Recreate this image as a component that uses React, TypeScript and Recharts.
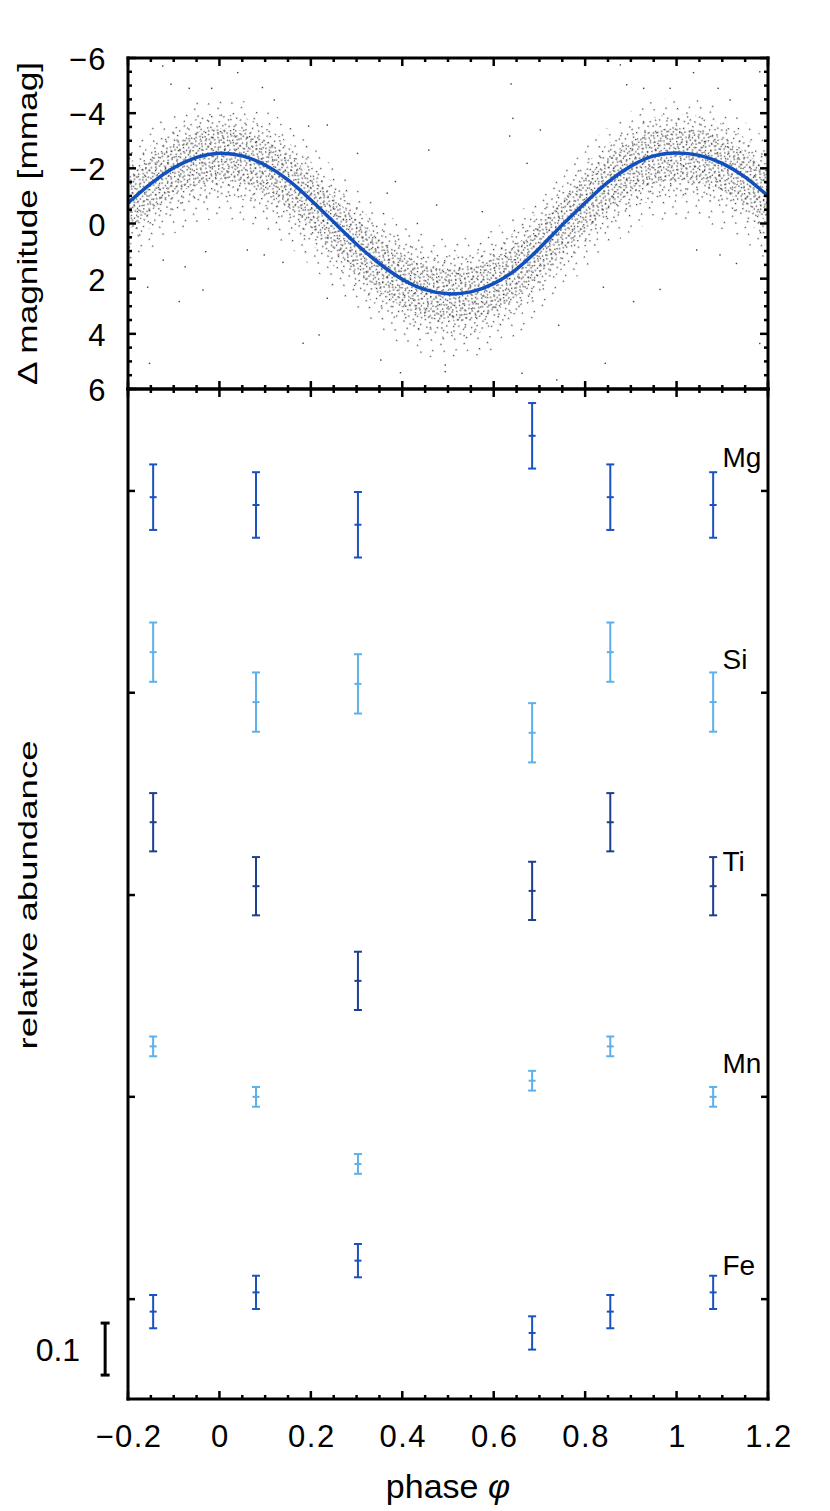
import React from 'react';
import {
  ComposedChart,
  XAxis,
  YAxis,
  Line,
  Area,
  Scatter,
  ErrorBar,
  ReferenceLine,
} from 'recharts';

// ---------------- DATA: top panel (phase-folded photometry) ----------------
const phaseGrid = [-0.2, -0.15, -0.1, -0.05, 0, 0.05, 0.1, 0.15, 0.2, 0.25, 0.3, 0.35, 0.4, 0.45, 0.5, 0.55, 0.6, 0.65, 0.7, 0.75, 0.8, 0.85, 0.9, 0.95, 1.0, 1.05, 1.1, 1.15, 1.2];
// fitted light curve (mmag)
const fitCurve = [-0.75, -1.45, -2.02, -2.4, -2.55, -2.45, -2.12, -1.58, -0.85, -0.05, 0.75, 1.45, 2.02, 2.4, 2.55, 2.48, 2.18, 1.65, 0.9, 0.05, -0.75, -1.5, -2.08, -2.45, -2.56, -2.47, -2.18, -1.68, -1.0];
// densest part of the photometric cloud (mmag)
const coreTop = [-1.65, -2.35, -2.92, -3.3, -3.45, -3.35, -3.02, -2.48, -1.75, -0.95, -0.15, 0.55, 1.12, 1.5, 1.65, 1.58, 1.28, 0.75, 0.0, -0.85, -1.65, -2.4, -2.98, -3.35, -3.46, -3.37, -3.08, -2.58, -1.9];
const coreBottom = [0.25, -0.45, -1.02, -1.4, -1.55, -1.45, -1.12, -0.58, 0.15, 0.95, 1.75, 2.45, 3.02, 3.4, 3.55, 3.48, 3.18, 2.65, 1.9, 1.05, 0.25, -0.5, -1.08, -1.45, -1.56, -1.47, -1.18, -0.68, 0.0];
// medium-density part of the cloud (mmag)
const midTop = [-2.15, -2.85, -3.4, -3.8, -3.95, -3.85, -3.5, -2.95, -2.25, -1.45, -0.65, 0.05, 0.6, 1.0, 1.15, 1.1, 0.8, 0.25, -0.5, -1.35, -2.15, -2.9, -3.45, -3.85, -3.95, -3.9, -3.6, -3.1, -2.4];
const midBottom = [0.85, 0.15, -0.45, -0.8, -0.95, -0.85, -0.5, 0.05, 0.75, 1.55, 2.35, 3.05, 3.6, 4.0, 4.15, 4.05, 3.75, 3.25, 2.5, 1.65, 0.85, 0.1, -0.5, -0.85, -0.95, -0.9, -0.6, -0.1, 0.6];
// sparse outer part of the cloud (mmag)
const haloTop = [-2.75, -3.45, -4.02, -4.4, -4.55, -4.45, -4.12, -3.58, -2.85, -2.05, -1.25, -0.55, 0.02, 0.4, 0.55, 0.48, 0.18, -0.35, -1.1, -1.95, -2.75, -3.5, -4.08, -4.45, -4.56, -4.47, -4.18, -3.68, -3.0];
const haloBottom = [1.65, 0.95, 0.38, 0.0, -0.15, -0.05, 0.28, 0.82, 1.55, 2.35, 3.15, 3.85, 4.42, 4.8, 4.95, 4.88, 4.58, 4.05, 3.3, 2.45, 1.65, 0.9, 0.32, -0.05, -0.16, -0.07, 0.22, 0.72, 1.4];
// isolated points outside the cloud
const outlierPhase = [-0.124, 0.04, -0.106, -0.066, -0.017, 0.094, 0.12, 0.458, 0.302, 0.236, 0.195, 0.367, 0.385, 0.433, 0.475, 0.236, 0.183, 0.218, 0.139, 0.061, 0.098, -0.03, -0.075, -0.123, -0.157, -0.088, -0.036, -0.153, 0.396, 0.353, 0.494, 0.638, 0.642, 0.635, 0.702, 0.673, 0.575, 0.877, 0.891, 0.928, 0.986, 1.037, 1.091, 1.117, 1.182, 0.84, 0.906, 0.964, 0.844, 0.742, 0.662, 0.494, 1.044, 1.095, 1.131, 1.182, 0.738];
const outlierMag = [-5.71, -5.47, -5.05, -4.9, -4.9, -4.93, -4.48, -2.66, -2.54, -3.57, -3.53, -1.1, -1.52, 0.0, -0.67, 2.71, 4.34, 4.04, 1.41, 0.96, 1.14, 1.02, 1.57, 1.33, 2.31, 2.83, 2.41, 5.07, 5.41, 4.95, 5.13, -5.06, -3.81, -3.17, -3.39, -2.18, -0.43, -5.75, -5.03, -4.9, -4.9, -5.47, -4.9, -4.48, -5.5, 2.31, 2.83, 2.39, 5.07, 3.69, 5.43, 5.37, 0.96, 1.14, 1.45, 4.35, 5.67];

const xMajorTicks = [-0.2, 0, 0.2, 0.4, 0.6, 0.8, 1, 1.2];
const xTickLabels = ['\u22120.2', '0', '0.2', '0.4', '0.6', '0.8', '1', '1.2'];
const magMajorTicks = [-6, -4, -2, 0, 2, 4, 6];
const magTickLabels = ['\u22126', '\u22124', '\u22122', '0', '2', '4', '6'];

// ---------------- DATA: bottom panel (abundances) ----------------
const elementNames = ['Mg', 'Si', 'Ti', 'Mn', 'Fe'];
const elementLevels = [1.554, 1.166, 0.777, 0.389, 0];
const spectrumPhases = [-0.145, 0.08, 0.303, 0.684, 0.855, 1.08];
const mgOffsets = [-0.012, -0.027, -0.065, 0.106, -0.012, -0.027];
const siOffsets = [0.078, -0.018, 0.017, -0.077, 0.078, -0.018];
const tiOffsets = [0.14, 0.017, -0.165, 0.008, 0.14, 0.017];
const mnOffsets = [0.097, 0.0, -0.129, 0.031, 0.097, 0.0];
const feOffsets = [-0.024, 0.013, 0.074, -0.065, -0.024, 0.013];
const elementErrors = [0.063, 0.057, 0.056, 0.019, 0.032];
const scaleBarLength = 0.1;
const scaleBarLabel = '0.1';

// ---------------- STYLES / LAYOUT ----------------
const FONT = '"Liberation Sans", Arial, Helvetica, sans-serif';
const W = 830;
const H = 1511;
const PLOT_LEFT = 128;
const PLOT_RIGHT = 768;
const TOP_PLOT_TOP = 58;
const SPLIT_Y = 389;
const BOTTOM_PLOT_BOTTOM = 1399;
const AXIS_T = 1; // thickness reserved by each axis
const elementColors = ['#1b52c2', '#5eb0ea', '#1d3f8e', '#5eb0ea', '#1b52c2'];
const CURVE_COLOR = '#1150bd';
const DOT_COLOR = '#3c3c3c';
const coreTexture = [[0.5, 1.5], [5.5, 0.2], [3, 5.5], [8, 7], [7.2, 3.6], [1.8, 8.6]];
const midTexture = [[2, 3], [8.5, 1], [6, 8.5], [11, 6]];
const haloTexture = [[4, 5], [12, 12], [14, 2]];

const phaseDomain: [number, number] = [-0.2, 1.2];
const magDomain: [number, number] = [-6, 6];
const abundanceDomain: [number, number] = [-0.192, 1.75];

function subdivide(majors: number[], parts: number): number[] {
  const out: number[] = [];
  for (let i = 0; i < majors.length - 1; i++) {
    const step = (majors[i + 1] - majors[i]) / parts;
    for (let k = 0; k < parts; k++) out.push(+(majors[i] + k * step).toFixed(6));
  }
  out.push(majors[majors.length - 1]);
  return out;
}

const xAllTicks = subdivide(xMajorTicks, 4);
const magAllTicks = subdivide(magMajorTicks, 4);

type Side = 'left' | 'right' | 'top' | 'bottom';

function makeTick(side: Side, majors: number[], labels: string[] | null, majorLen: number, minorLen: number) {
  const TickMark = (props: any) => {
    const x = Number(props.x);
    const y = Number(props.y);
    const v = Number(props.payload && props.payload.value);
    const idx = majors.findIndex((m) => Math.abs(m - v) < 1e-6);
    const len = idx >= 0 ? majorLen : minorLen;
    const dx = side === 'left' ? len : side === 'right' ? -len : 0;
    const dy = side === 'top' ? len : side === 'bottom' ? -len : 0;
    let label: React.ReactNode = null;
    if (labels && idx >= 0) {
      if (side === 'left') {
        label = (
          <text x={x - 21} y={y + 12} textAnchor="end" fontFamily={FONT} fontSize={31} fill="#000" letterSpacing={1.5}>
            {labels[idx]}
          </text>
        );
      } else if (side === 'bottom') {
        label = (
          <text x={x + 1} y={y + 48} textAnchor="middle" fontFamily={FONT} fontSize={31} fill="#000" letterSpacing={1.5}>
            {labels[idx]}
          </text>
        );
      }
    }
    return (
      <g>
        {len > 0 && <line x1={x} y1={y} x2={x + dx} y2={y + dy} stroke="#000" strokeWidth={2.5} />}
        {label}
      </g>
    );
  };
  return TickMark;
}

const axisLineStyle = { stroke: '#000', strokeWidth: 3, strokeLinecap: 'square' as const };

const curveRows = phaseGrid.map((p, i) => ({
  phase: p,
  fit: fitCurve[i],
  core: [coreTop[i], coreBottom[i]],
  mid: [midTop[i], midBottom[i]],
  halo: [haloTop[i], haloBottom[i]],
}));

const outlierRows = outlierPhase.map((p, i) => ({ phase: p, mag: outlierMag[i] }));

const elementOffsets = [mgOffsets, siOffsets, tiOffsets, mnOffsets, feOffsets];
const elementRows = elementNames.map((_, e) =>
  spectrumPhases.map((p, j) => ({
    phase: p,
    y: elementLevels[e] + elementOffsets[e][j],
    err: elementErrors[e],
  }))
);

const OutlierDot = (props: any) => (
  <rect x={props.cx - 0.7} y={props.cy - 0.7} width={1.4} height={1.4} fill={DOT_COLOR} />
);

function makeCenterMark(color: string) {
  const CenterMark = (props: any) => (
    <line x1={props.cx - 3.5} x2={props.cx + 3.5} y1={props.cy} y2={props.cy} stroke={color} strokeWidth={2} />
  );
  return CenterMark;
}

function makeElementTag(name: string) {
  const Tag = (props: any) => {
    const vb = props.viewBox || {};
    return (
      <text x={vb.x + vb.width - 45.5} y={vb.y - 24} fontFamily={FONT} fontSize={28} fill="#000">
        {name}
      </text>
    );
  };
  return Tag;
}

// label of the scale bar: draws the end caps and the "0.1" text
const ScaleLabel = (props: any) => {
  const vb = props.viewBox || {};
  const cx = vb.x + (vb.width || 0) / 2;
  return (
    <g>
      <line x1={cx - 4.5} x2={cx + 4.5} y1={vb.y} y2={vb.y} stroke="#000" strokeWidth={3} />
      <line x1={cx - 4.5} x2={cx + 4.5} y1={vb.y + vb.height} y2={vb.y + vb.height} stroke="#000" strokeWidth={3} />
      <text x={cx - 25} y={vb.y + vb.height / 2 + 12} textAnchor="end" fontFamily={FONT} fontSize={32} fill="#000">
        {scaleBarLabel}
      </text>
    </g>
  );
};

const scaleBarPhase = -0.25;
const scaleBarCenter = -0.096;

function dotPattern(id: string, w: number, h: number, spots: number[][], rot: number) {
  return (
    <pattern id={id} width={w} height={h} patternUnits="userSpaceOnUse" patternTransform={`rotate(${rot})`}>
      {spots.map(([px, py], i) => (
        <rect key={i} x={px} y={py} width={1.3} height={1.3} fill={DOT_COLOR} />
      ))}
    </pattern>
  );
}

const commonX = {
  dataKey: 'phase',
  type: 'number' as const,
  domain: phaseDomain,
  allowDataOverflow: true,
  ticks: xAllTicks,
  interval: 0 as const,
  height: AXIS_T,
  tickSize: 0,
  tickMargin: 0,
  tickLine: false,
  axisLine: axisLineStyle,
};

export default function App() {
  return (
    <div style={{ position: 'absolute', left: 0, top: 0, width: W, height: H, background: '#fff' }}>
      {/* ---------- top panel ---------- */}
      <div style={{ position: 'absolute', left: 0, top: 0 }}>
        <ComposedChart
          width={W}
          height={H}
          data={curveRows}
          margin={{
            top: TOP_PLOT_TOP - AXIS_T,
            right: W - PLOT_RIGHT - AXIS_T,
            bottom: H - SPLIT_Y - AXIS_T,
            left: PLOT_LEFT - AXIS_T,
          }}
          style={{ overflow: 'visible' }}
        >
          <defs>
            {dotPattern('coreDots', 10, 10, coreTexture, 17)}
            {dotPattern('midDots', 13, 11, midTexture, -29)}
            {dotPattern('haloDots', 17, 16, haloTexture, 41)}
          </defs>
          <Area dataKey="halo" type="monotone" stroke="none" fill="url(#haloDots)" fillOpacity={1} isAnimationActive={false} />
          <Area dataKey="mid" type="monotone" stroke="none" fill="url(#midDots)" fillOpacity={1} isAnimationActive={false} />
          <Area dataKey="core" type="monotone" stroke="none" fill="url(#coreDots)" fillOpacity={1} isAnimationActive={false} />
          <Scatter data={outlierRows} dataKey="mag" shape={OutlierDot} isAnimationActive={false} />
          <Line dataKey="fit" type="natural" stroke={CURVE_COLOR} strokeWidth={3.5} dot={false} isAnimationActive={false} />
          <XAxis {...commonX} tick={makeTick('bottom', xMajorTicks, null, 8, 4)} />
          <XAxis {...commonX} xAxisId="top" orientation="top" tick={makeTick('top', xMajorTicks, null, 8, 4)} />
          <YAxis
            type="number"
            domain={magDomain}
            reversed
            allowDataOverflow
            ticks={magAllTicks}
            interval={0}
            width={AXIS_T}
            tickSize={0}
            tickMargin={0}
            tickLine={false}
            axisLine={axisLineStyle}
            tick={makeTick('left', magMajorTicks, magTickLabels, 8, 4)}
          />
          <YAxis
            yAxisId="right"
            orientation="right"
            type="number"
            domain={magDomain}
            reversed
            allowDataOverflow
            ticks={magAllTicks}
            interval={0}
            width={AXIS_T}
            tickSize={0}
            tickMargin={0}
            tickLine={false}
            axisLine={axisLineStyle}
            tick={makeTick('right', magMajorTicks, null, 8, 4)}
          />
        </ComposedChart>
      </div>

      {/* ---------- bottom panel ---------- */}
      <div style={{ position: 'absolute', left: 0, top: 0 }}>
        <ComposedChart
          width={W}
          height={H}
          margin={{
            top: SPLIT_Y - AXIS_T,
            right: W - PLOT_RIGHT - AXIS_T,
            bottom: H - BOTTOM_PLOT_BOTTOM - AXIS_T,
            left: PLOT_LEFT - AXIS_T,
          }}
          style={{ overflow: 'visible' }}
        >
          {elementNames.map((name, e) => (
            <Scatter
              key={name}
              name={name}
              data={elementRows[e]}
              dataKey="y"
              shape={makeCenterMark(elementColors[e])}
              isAnimationActive={false}
            >
              <ErrorBar dataKey="err" direction="y" width={4} strokeWidth={2} stroke={elementColors[e]} isAnimationActive={false} />
            </Scatter>
          ))}
          {elementNames.map((name, e) => (
            <ReferenceLine
              key={'tag-' + name}
              y={elementLevels[e]}
              stroke="none"
              ifOverflow="visible"
              label={makeElementTag(name)}
            />
          ))}
          <ReferenceLine
            segment={[
              { x: scaleBarPhase, y: scaleBarCenter + scaleBarLength / 2 },
              { x: scaleBarPhase, y: scaleBarCenter - scaleBarLength / 2 },
            ]}
            stroke="#000"
            strokeWidth={3}
            ifOverflow="visible"
            label={ScaleLabel}
          />
          <XAxis {...commonX} tick={makeTick('bottom', xMajorTicks, xTickLabels, 8, 4)} />
          <XAxis {...commonX} xAxisId="top" orientation="top" tick={makeTick('top', xMajorTicks, null, 8, 4)} />
          <YAxis
            type="number"
            domain={abundanceDomain}
            allowDataOverflow
            ticks={elementLevels}
            interval={0}
            width={AXIS_T}
            tickSize={0}
            tickMargin={0}
            tickLine={false}
            axisLine={axisLineStyle}
            tick={makeTick('left', elementLevels, null, 7, 0)}
          />
          <YAxis
            yAxisId="right"
            orientation="right"
            type="number"
            domain={abundanceDomain}
            allowDataOverflow
            ticks={elementLevels}
            interval={0}
            width={AXIS_T}
            tickSize={0}
            tickMargin={0}
            tickLine={false}
            axisLine={axisLineStyle}
            tick={makeTick('right', elementLevels, null, 7, 0)}
          />
        </ComposedChart>
      </div>

      {/* ---------- axis titles ---------- */}
      <svg width={W} height={H} style={{ position: 'absolute', left: 0, top: 0, pointerEvents: 'none' }}>
        <text
          transform={`translate(37, ${(TOP_PLOT_TOP + SPLIT_Y) / 2}) rotate(-90)`}
          textAnchor="middle"
          fontFamily={FONT}
          fontSize={28}
          textLength={323}
          lengthAdjust="spacingAndGlyphs"
          fill="#000"
        >
          Δ magnitude [mmag]
        </text>
        <text
          transform="translate(37, 895) rotate(-90)"
          textAnchor="middle"
          fontFamily={FONT}
          fontSize={26}
          textLength={309}
          lengthAdjust="spacingAndGlyphs"
          fill="#000"
        >
          relative abundance
        </text>
        <text x={448} y={1498} textAnchor="middle" fontFamily={FONT} fontSize={34} fill="#000">
          phase <tspan fontStyle="italic">φ</tspan>
        </text>
      </svg>
    </div>
  );
}
